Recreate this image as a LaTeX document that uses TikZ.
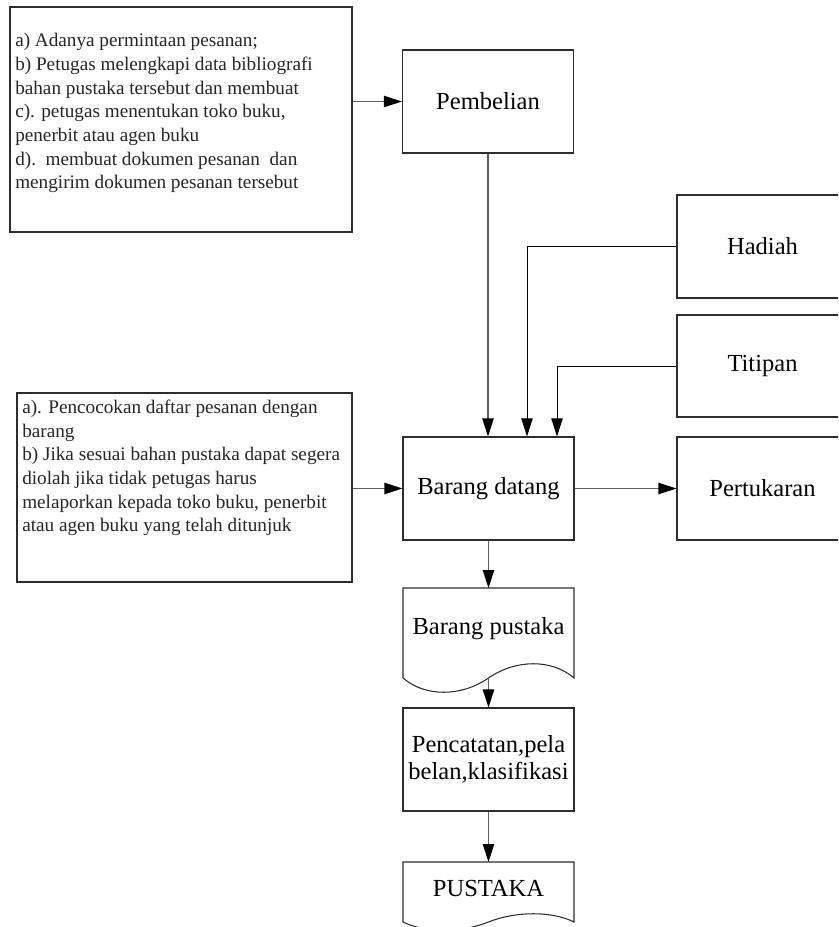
\documentclass[tikz,border=0pt]{standalone}
\usepackage{fontspec}
\setmainfont{Liberation Serif}
\usetikzlibrary{arrows.meta}
\definecolor{boxline}{RGB}{45,45,45}
\definecolor{flowline}{RGB}{95,95,95}
\newcommand\bigtxt{\fontsize{18.4}{20.25}\selectfont}
\newcommand\smalltxt{\fontsize{14.4}{17.8}\selectfont}
\begin{document}
\begin{tikzpicture}[x=0.75pt,y=-0.75pt,
  box/.style={draw=boxline, line width=0.8pt, rectangle, inner sep=0pt,
    minimum width=128.25pt, minimum height=77.25pt, font=\bigtxt},
  notebox/.style={draw=boxline, line width=0.8pt, rectangle, inner sep=0pt},
  notetext/.style={anchor=north west, inner sep=0pt, align=left, font=\smalltxt, text=black!85},
  doc/.style={draw=boxline, line width=0.8pt},
  tip/.style={-{Triangle[length=13.5pt,width=8.5pt,color=black]}},
  conn/.style={tip, draw=flowline, line width=1pt},
  thinconn/.style={tip, draw=black, line width=0.6pt}
]
\useasboundingbox (0,0) rectangle (838,927);
\clip (0,0) rectangle (838,927);

% process boxes
\node[box] (pemb) at (488,101.5) {Pembelian};
\node[box] (bd) at (488.5,488.5) {Barang datang};
\node[box] (hadiah) at (762.5,246.5) {Hadiah};
\node[box, minimum height=76.5pt] (titipan) at (762.5,366) {Titipan};
\node[box] (tukar) at (762.5,488.5) {Pertukaran};
\node[box, align=center] (catat) at (488.5,759.5) {Pencatatan,pela\\belan,klasifikasi};

% note boxes with their step lists
\node[notebox, minimum width=256.5pt, minimum height=168.75pt] (req) at (181,119.5) {};
\node[notetext] (reqtext) at (15,33) {a) Adanya permintaan pesanan;\\
b) Petugas melengkapi data bibliografi\\
bahan pustaka tersebut dan membuat\\
c). petugas menentukan toko buku,\\
penerbit atau agen buku\\
d).\ \ membuat dokumen pesanan\ \ dan\\
mengirim dokumen pesanan tersebut};

\node[notebox, minimum width=251.25pt, minimum height=141.75pt] (chk) at (184.5,487.5) {};
\node[notetext] (chktext) at (22,399.5) {a). Pencocokan daftar pesanan dengan\\
barang\\
b) Jika sesuai bahan pustaka dapat segera\\
diolah jika tidak petugas harus\\
melaporkan kepada toko buku, penerbit\\
atau agen buku yang telah ditunjuk};

% document shapes
\draw[doc] (403,678) -- (403,588) -- (574,588) -- (574,678)
  .. controls (552,659) and (516,659) .. (488.5,678)
  .. controls (461,697) and (425,697) .. (403,678) -- cycle;
\coordinate (bpktop) at (488.5,588);
\coordinate (bpkout) at (488.5,678);
\node[font=\bigtxt] (bpk) at (488.5,629) {Barang pustaka};

\draw[doc] (403,922) -- (403,862) -- (574,862) -- (574,922)
  .. controls (552,911) and (516,911) .. (488.5,922)
  .. controls (461,933) and (425,933) .. (403,922) -- cycle;
\coordinate (pustop) at (488.5,862);
\node[font=\bigtxt] (pustaka) at (488.5,888) {PUSTAKA};

% connectors
\draw[conn] (req.east |- pemb.west) -- (pemb.west);
\draw[conn] (pemb.south) -- (pemb.south |- bd.north);
\draw[thinconn] (hadiah.west) -| ([xshift=28.875pt]bd.north);
\draw[thinconn] (titipan.west) -| ([xshift=51.375pt]bd.north);
\draw[conn] (chk.east |- bd.west) -- (bd.west);
\draw[conn] (bd.east) -- (tukar.west);
\draw[conn] (bd.south) -- (bpktop);
\draw[conn] (bpkout) -- (catat.north);
\draw[conn] (catat.south) -- (pustop);
\end{tikzpicture}
\end{document}
